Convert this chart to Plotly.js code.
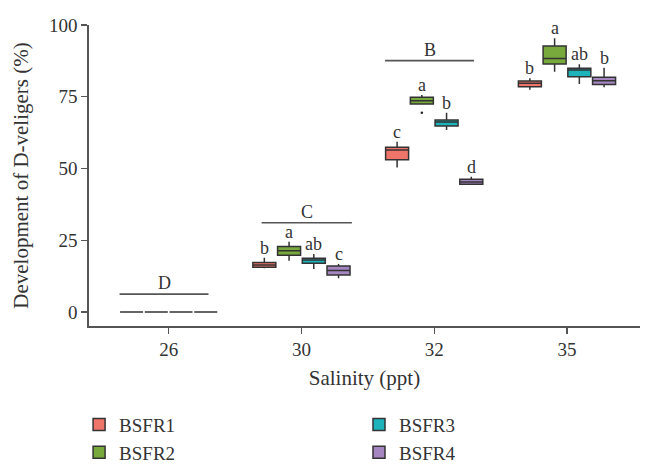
<!DOCTYPE html>
<html>
<head>
<meta charset="utf-8">
<script src="https://cdn.plot.ly/plotly-3.0.1.min.js"></script>
<style>html,body{margin:0;padding:0;background:#fff;}#chart{width:648px;height:464px;}</style>
</head>
<body>
<div id="chart"></div>
<script>
// ---- data ----
const salinity = ['26', '30', '32', '35'];
const series = ['BSFR1', 'BSFR2', 'BSFR3', 'BSFR4'];
// rows: BSFR1..BSFR4, columns: salinity 26, 30, 32, 35
const lowerFence = [[0, 15.2, 50.3, 77.4], [0, 17.8, 72.5, 83.7], [0, 15.0, 63.4, 79.4], [0, 11.7, 44.5, 78.3]];
const q1 =         [[0, 15.6, 53.0, 78.5], [0, 19.8, 72.5, 86.4], [0, 17.0, 64.8, 82.0], [0, 12.9, 44.5, 79.3]];
const median =     [[0, 16.4, 56.4, 79.7], [0, 21.3, 73.6, 88.3], [0, 18.1, 66.2, 84.3], [0, 14.4, 45.3, 80.6]];
const q3 =         [[0, 17.2, 57.4, 80.5], [0, 22.8, 74.8, 92.7], [0, 18.7, 66.9, 84.9], [0, 16.0, 46.2, 81.8]];
const upperFence = [[0, 18.9, 59.3, 81.4], [0, 24.5, 75.6, 95.4], [0, 20.2, 69.4, 86.3], [0, 16.7, 47.1, 85.1]];
// outlier points: series index, salinity index, value
const outlierSeries = [1];
const outlierGroup = [2];
const outlierValue = [69.4];
const boxLetters = [['', 'b', 'c', 'b'], ['', 'a', 'a', 'a'], ['', 'ab', 'b', 'ab'], ['', 'c', 'd', 'b']];
const groupLetters = ['D', 'C', 'B', 'A'];
const groupLineY = [6.2, 31.1, 87.6, 100.3];

// ---- style ----
const colors = ['#EF756B', '#78A93C', '#1CB3BB', '#A686C1'];
const edge = '#333333';
const font = 'Liberation Serif, Times New Roman, serif';
const boxgap = 0.255;
const slot = (1 - boxgap) / series.length;
const bracketFrom = [-0.37, -0.30, -0.37, -0.38];
const bracketTo = [0.30, 0.38, 0.30, 0.30];
const groupIdx = salinity.map((c, g) => g);
const offsetOf = s => (s - (series.length - 1) / 2) * slot;

const traces = series.map((name, s) => ({
  type: 'box',
  name: name,
  x: groupIdx,
  q1: q1[s], median: median[s], q3: q3[s],
  lowerfence: lowerFence[s], upperfence: upperFence[s],
  boxpoints: false,
  fillcolor: colors[s],
  line: {color: edge, width: 1.5},
  whiskerwidth: 0,
  hoverinfo: 'skip',
  legend: s < 2 ? 'legend' : 'legend2',
  legendgroup: name
}));
traces.push({
  type: 'scatter', mode: 'markers', showlegend: false, hoverinfo: 'skip',
  x: outlierGroup.map((g, i) => g + offsetOf(outlierSeries[i])),
  y: outlierValue,
  marker: {color: '#222', size: 2.5}
});

const annotations = [];
const shapes = [];
series.forEach((name, s) => {
  salinity.forEach((c, g) => {
    if (!boxLetters[s][g]) return;
    annotations.push({
      x: g + offsetOf(s), y: upperFence[s][g],
      xref: 'x', yref: 'y', text: boxLetters[s][g], showarrow: false,
      yanchor: 'bottom', xanchor: 'center', yshift: -2,
      font: {family: font, size: 18, color: '#333'}
    });
  });
});
salinity.forEach((c, g) => {
  shapes.push({type: 'line', xref: 'x', yref: 'y',
    x0: g + bracketFrom[g], x1: g + bracketTo[g], y0: groupLineY[g], y1: groupLineY[g],
    line: {color: '#555', width: 1.6}});
  annotations.push({
    x: g + (bracketFrom[g] + bracketTo[g]) / 2, y: groupLineY[g], xref: 'x', yref: 'y',
    text: groupLetters[g], showarrow: false, yanchor: 'bottom', xanchor: 'center', yshift: -1,
    font: {family: font, size: 18, color: '#333'}
  });
});

const legendBase = {
  orientation: 'v', xanchor: 'left', yanchor: 'top', y: -0.265,
  font: {family: font, size: 19, color: '#333'},
  bgcolor: 'rgba(0,0,0,0)', tracegroupgap: 0, itemclick: false
};

const layout = {
  width: 648, height: 464,
  margin: {l: 89, r: 8, t: 25, b: 138, autoexpand: false},
  paper_bgcolor: '#fff', plot_bgcolor: '#fff',
  font: {family: font, size: 19, color: '#333'},
  boxmode: 'group', boxgap: boxgap, boxgroupgap: 0.07,
  showlegend: true,
  xaxis: {
    type: 'linear', range: [-0.6, 3.55], showgrid: false, zeroline: false,
    tickvals: groupIdx, ticktext: salinity,
    showline: true, linecolor: '#555', linewidth: 1.6,
    ticks: 'outside', ticklen: 6, tickwidth: 1.4, tickcolor: '#555',
    tickfont: {family: font, size: 19, color: '#333'},
    title: {text: 'Salinity (ppt)', font: {family: font, size: 21, color: '#333'}, standoff: 11}
  },
  yaxis: {
    range: [-4.9, 100], showgrid: false, zeroline: false,
    showline: true, linecolor: '#555', linewidth: 1.6,
    tickvals: [0, 25, 50, 75, 100],
    ticks: 'outside', ticklen: 6, tickwidth: 1.4, tickcolor: '#555',
    tickfont: {family: font, size: 19, color: '#333'},
    title: {text: 'Development of D-veligers (%)', font: {family: font, size: 21, color: '#333'}, standoff: 15}
  },
  legend: Object.assign({}, legendBase, {x: -0.018}),
  legend2: Object.assign({}, legendBase, {x: 0.49}),
  annotations: annotations,
  shapes: shapes
};

Plotly.newPlot('chart', traces, layout, {displayModeBar: false, staticPlot: true});
</script>
</body>
</html>
